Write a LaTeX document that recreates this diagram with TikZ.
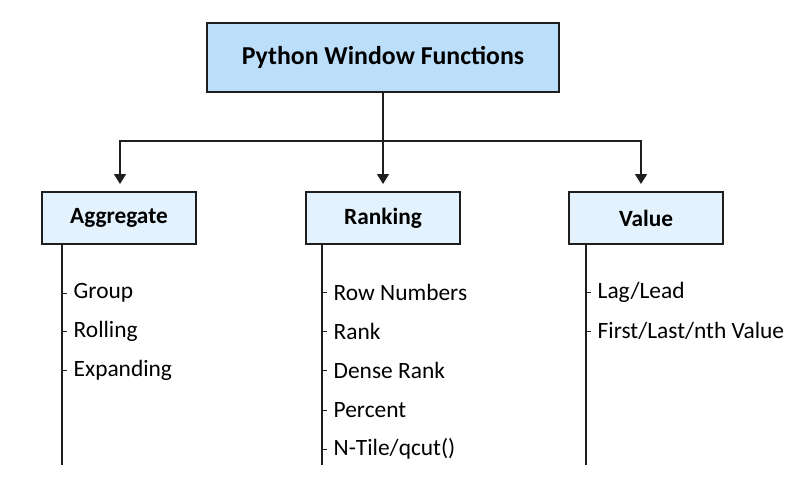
\documentclass[tikz,border=0pt]{standalone}
\usepackage{fontspec}
\setmainfont{Carlito}
\usetikzlibrary{arrows.meta}
\usepackage{xcolor}
\definecolor{titleblue}{HTML}{BBDEFB}
\definecolor{catblue}{HTML}{E3F2FD}
\definecolor{edge}{HTML}{1E1E1E}

\begin{document}
\begin{tikzpicture}[x=1pt,y=-1pt,
    titlebox/.style={draw=edge, line width=1.6pt, fill=titleblue, minimum width=352pt, minimum height=69pt, font=\fontsize{25.8}{28}\selectfont\bfseries},
    catbox/.style={draw=edge, line width=1.6pt, fill=catblue, minimum width=154pt, minimum height=52pt, font=\fontsize{23.3}{26}\selectfont\bfseries},
    item/.style={anchor=west, inner xsep=12.5pt, inner ysep=0pt, font=\fontsize{23.4}{27}\selectfont},
    link/.style={draw=edge, line width=1.6pt}]
        \useasboundingbox (0,0) rectangle (796,498);

        \node (title) [titlebox] at (383,57.5) {Python Window Functions};
        \node (agg) [catbox] at (119,218) {Aggregate};
        \node (rank) [catbox] at (383,218) {Ranking};
        \node (val) [catbox] at (646,218) {Value};

        \coordinate (split) at (383,141);
        \coordinate (aggin) at (120,184);
        \coordinate (rankin) at (383,184);
        \coordinate (valin) at (641,184);

        \draw[link] (title) -- (split);
        \draw[link, -{Triangle[length=10pt,width=12pt]}] (split) -| (aggin);
        \draw[link, -{Triangle[length=10pt,width=12pt]}] (split) -- (rankin);
        \draw[link, -{Triangle[length=10pt,width=12pt]}] (split) -| (valin);

        % item lists
        \coordinate (aggend) at (62,465);
        \coordinate (rankend) at (322,465);
        \coordinate (valend) at (586,465);
        \draw[link] (agg.south -| aggend) -- (aggend);
        \draw[link] (rank.south -| rankend) -- (rankend);
        \draw[link] (val.south -| valend) -- (valend);

        \node (group) [item] at (61,293) {Group};
        \node (rolling) [item] at (61,331) {Rolling};
        \node (expanding) [item] at (61,370) {Expanding};

        \node (rownum) [item] at (321,292) {Row Numbers};
        \node (rnk) [item] at (321,331) {Rank};
        \node (dense) [item] at (321,370) {Dense Rank};
        \node (percent) [item] at (321,410) {Percent};
        \node (ntile) [item] at (321,449) {N-Tile/qcut()};

        \node (lag) [item] at (585,292) {Lag/Lead};
        \node (first) [item] at (585,331) {First/Last/nth Value};

        \draw[link, line width=1pt] (group.west) -- ++(6,0);
        \draw[link, line width=1pt] (rolling.west) -- ++(6,0);
        \draw[link, line width=1pt] (expanding.west) -- ++(6,0);
        \draw[link, line width=1pt] (rownum.west) -- ++(6,0);
        \draw[link, line width=1pt] (rnk.west) -- ++(6,0);
        \draw[link, line width=1pt] (dense.west) -- ++(6,0);
        \draw[link, line width=1pt] (percent.west) -- ++(6,0);
        \draw[link, line width=1pt] (ntile.west) -- ++(6,0);
        \draw[link, line width=1pt] (lag.west) -- ++(6,0);
        \draw[link, line width=1pt] (first.west) -- ++(6,0);
    \end{tikzpicture}
\end{document}
